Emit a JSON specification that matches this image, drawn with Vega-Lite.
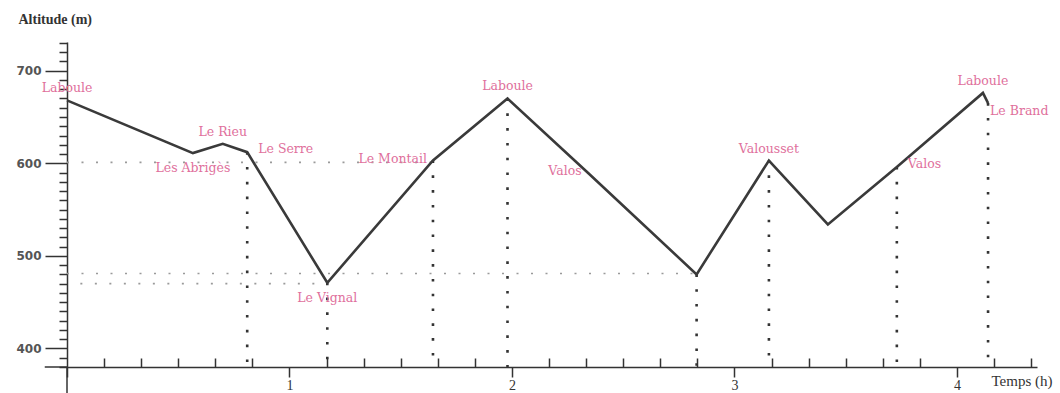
{
  "$schema": "https://vega.github.io/schema/vega-lite/v6.json",
  "width": 970,
  "height": 325,
  "autosize": {"type": "none"},
  "padding": {"left": 67, "top": 42, "right": 23, "bottom": 26},
  "background": "white",
  "config": {"view": {"stroke": null}},
  "datasets": {
    "pts": [
      {"t": 0, "alt": 668, "name": "Laboule", "pos": "above", "drop": false},
      {"t": 0.566, "alt": 611, "name": "Les Abrigès", "pos": "below", "drop": false},
      {"t": 0.7, "alt": 621, "name": "Le Rieu", "pos": "above", "drop": false},
      {"t": 0.81, "alt": 612, "name": "Le Serre", "pos": "right", "drop": true},
      {"t": 1.17, "alt": 471, "name": "Le Vignal", "pos": "below", "drop": true},
      {"t": 1.645, "alt": 603, "name": "Le Montail", "pos": "left", "drop": true},
      {"t": 1.98, "alt": 670, "name": "Laboule", "pos": "above", "drop": true},
      {"t": 2.34, "alt": 590, "name": "Valos", "pos": "left", "drop": false},
      {"t": 2.83, "alt": 480, "name": "", "pos": "none", "drop": true},
      {"t": 3.155, "alt": 603, "name": "Valousset", "pos": "above", "drop": true},
      {"t": 3.42, "alt": 534, "name": "", "pos": "none", "drop": false},
      {"t": 3.73, "alt": 596, "name": "Valos", "pos": "right", "drop": true},
      {"t": 4.117, "alt": 676, "name": "Laboule", "pos": "above", "drop": false},
      {"t": 4.14, "alt": 665, "name": "Le Brand", "pos": "belowright", "drop": true}
    ],
    "hlines": [
      {"alt": 601, "t0": 0, "t1": 1.645},
      {"alt": 481, "t0": 0, "t1": 2.83},
      {"alt": 470, "t0": 0.06, "t1": 1.17}
    ],
    "axisext": [
      {"t0": 0, "t1": 0, "a0": 352, "a1": 380},
      {"t0": -0.1, "t1": 0, "a0": 380, "a1": 380}
    ]
  },
  "layer": [
    {
      "data": {"name": "hlines"},
      "mark": {"type": "rule", "color": "#9a9a9a", "strokeWidth": 1.6, "strokeDash": [2, 12.5]},
      "encoding": {
        "x": {"field": "t0", "type": "quantitative",
          "scale": {"domain": [0, 4.36], "nice": false, "zero": false},
          "axis": {
            "values": [0, 0.1667, 0.3333, 0.5, 0.6667, 0.8333, 1, 1.1667, 1.3333, 1.5, 1.6667, 1.8333, 2, 2.1667, 2.3333, 2.5, 2.6667, 2.8333, 3, 3.1667, 3.3333, 3.5, 3.6667, 3.8333, 4, 4.1667, 4.3333],
            "tickCount": 200,
            "labelExpr": "(abs(datum.value - round(datum.value)) < 0.01 && datum.value > 0.5) ? format(datum.value, 'd') : ''",
            "tickSize": {"condition": {"test": "abs(datum.value - round(datum.value)) < 0.01", "value": 10}, "value": -9},
            "grid": false,
            "domainColor": "#333333", "domainWidth": 1.5,
            "tickColor": "#333333", "tickWidth": 1.5,
            "labelFont": "Liberation Serif", "labelFontSize": 14, "labelColor": "#333333",
            "labelPadding": 1, "labelFlush": false, "labelOverlap": false,
            "title": "Temps (h)",
            "titleFont": "Liberation Serif", "titleFontSize": 15, "titleFontWeight": "normal", "titleColor": "#333333",
            "titleAnchor": null, "titleAlign": "left", "titleBaseline": "middle",
            "titleX": 924, "titleY": 13
          }
        },
        "x2": {"field": "t1"},
        "y": {"field": "alt", "type": "quantitative",
          "scale": {"domain": [380, 731], "nice": false, "zero": false},
          "axis": {
            "values": [380, 390, 400, 410, 420, 430, 440, 450, 460, 470, 480, 490, 500, 510, 520, 530, 540, 550, 560, 570, 580, 590, 600, 610, 620, 630, 640, 650, 660, 670, 680, 690, 700, 710, 720, 730],
            "tickCount": 200,
            "labelExpr": "datum.value % 100 === 0 ? format(datum.value, 'd') : ''",
            "tickSize": {"condition": {"test": "datum.value % 100 === 0", "value": 22}, "value": 8},
            "grid": false,
            "domainColor": "#333333", "domainWidth": 1.5,
            "tickColor": "#333333", "tickWidth": 1.5,
            "labelFont": "DejaVu Sans", "labelFontSize": 12, "labelFontWeight": "bold", "labelColor": "#555555",
            "labelPadding": 4, "labelOverlap": false, "labelFlush": false,
            "title": "Altitude (m)",
            "titleFont": "Liberation Serif", "titleFontSize": 14, "titleFontWeight": "bold", "titleColor": "#333333",
            "titleAngle": 0, "titleAnchor": null, "titleAlign": "left", "titleBaseline": "middle",
            "titleX": -49, "titleY": -23
          }
        }
      }
    },
    {
      "data": {"name": "axisext"},
      "mark": {"type": "rule", "color": "#333333", "strokeWidth": 1.5},
      "encoding": {
        "x": {"field": "t0", "type": "quantitative"},
        "x2": {"field": "t1"},
        "y": {"field": "a0", "type": "quantitative"},
        "y2": {"field": "a1"}
      }
    },
    {
      "data": {"name": "pts"},
      "transform": [{"filter": "datum.drop"}],
      "mark": {"type": "rule", "color": "#333333", "strokeWidth": 2.6, "strokeDash": [2.6, 12.2]},
      "encoding": {
        "x": {"field": "t", "type": "quantitative"},
        "y": {"field": "alt", "type": "quantitative"},
        "y2": {"datum": 380}
      }
    },
    {
      "data": {"name": "pts"},
      "mark": {"type": "line", "color": "#3a3a3a", "strokeWidth": 2.6},
      "encoding": {
        "x": {"field": "t", "type": "quantitative"},
        "y": {"field": "alt", "type": "quantitative"},
        "order": {"field": "t"}
      }
    },
    {
      "data": {"name": "pts"},
      "transform": [{"filter": "datum.pos === 'above'"}],
      "mark": {"type": "text", "font": "DejaVu Serif", "fontSize": 12.5, "color": "#e0709c", "align": "center", "baseline": "middle", "dy": -12},
      "encoding": {
        "x": {"field": "t", "type": "quantitative"},
        "y": {"field": "alt", "type": "quantitative"},
        "text": {"field": "name"}
      }
    },
    {
      "data": {"name": "pts"},
      "transform": [{"filter": "datum.pos === 'below'"}],
      "mark": {"type": "text", "font": "DejaVu Serif", "fontSize": 12.5, "color": "#e0709c", "align": "center", "baseline": "middle", "dy": 15},
      "encoding": {
        "x": {"field": "t", "type": "quantitative"},
        "y": {"field": "alt", "type": "quantitative"},
        "text": {"field": "name"}
      }
    },
    {
      "data": {"name": "pts"},
      "transform": [{"filter": "datum.pos === 'left'"}],
      "mark": {"type": "text", "font": "DejaVu Serif", "fontSize": 12.5, "color": "#e0709c", "align": "right", "baseline": "middle", "dx": -6, "dy": -2},
      "encoding": {
        "x": {"field": "t", "type": "quantitative"},
        "y": {"field": "alt", "type": "quantitative"},
        "text": {"field": "name"}
      }
    },
    {
      "data": {"name": "pts"},
      "transform": [{"filter": "datum.pos === 'right'"}],
      "mark": {"type": "text", "font": "DejaVu Serif", "fontSize": 12.5, "color": "#e0709c", "align": "left", "baseline": "middle", "dx": 11, "dy": -3},
      "encoding": {
        "x": {"field": "t", "type": "quantitative"},
        "y": {"field": "alt", "type": "quantitative"},
        "text": {"field": "name"}
      }
    },
    {
      "data": {"name": "pts"},
      "transform": [{"filter": "datum.pos === 'belowright'"}],
      "mark": {"type": "text", "font": "DejaVu Serif", "fontSize": 12.5, "color": "#e0709c", "align": "left", "baseline": "middle", "dx": 2, "dy": 8},
      "encoding": {
        "x": {"field": "t", "type": "quantitative"},
        "y": {"field": "alt", "type": "quantitative"},
        "text": {"field": "name"}
      }
    }
  ]
}
